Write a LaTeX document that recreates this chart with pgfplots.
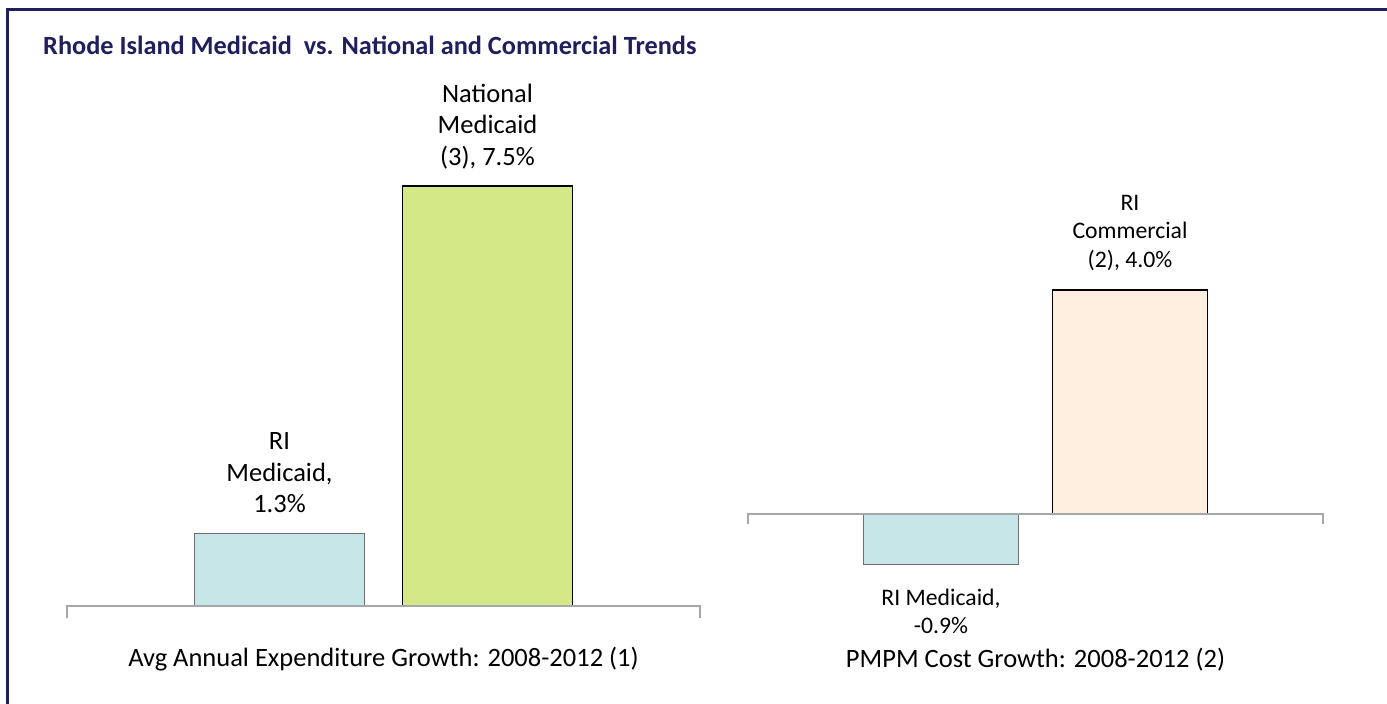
\documentclass[border=0pt]{standalone}
\usepackage{pgfplots}
\pgfplotsset{compat=1.18}
\usepackage{fontspec}
\setmainfont{Carlito}

\definecolor{framenavy}{RGB}{31,31,92}
\definecolor{riblue}{RGB}{198,230,232}
\definecolor{natgreen}{RGB}{213,232,135}
\definecolor{compeach}{RGB}{254,239,224}
\definecolor{basegray}{RGB}{166,166,173}
\definecolor{riedge}{RGB}{110,110,110}

\newcommand{\leftfont}{\fontsize{26.5}{31.5}\selectfont}
\newcommand{\rightfont}{\fontsize{23.7}{28.5}\selectfont}
\newcommand{\catfont}{\fontsize{26.5}{32}\selectfont}

\pgfplotsset{
  barpanel/.style={
    scale only axis,
    axis lines=none,
    clip=false,
    ybar,
    bar shift=0pt,
    xtick=\empty, ytick=\empty,
    nodes near coords style={inner sep=0pt, align=center, text depth=0pt},
  },
}

\begin{document}
\begin{tikzpicture}
\fill[white] (0pt,0pt) rectangle (1387pt,-704pt);
\path[use as bounding box] (0pt,0pt) rectangle (1387pt,-704pt);

% frame and title
\draw[framenavy, line width=3pt] (7pt,-704pt) -- (7pt,-9pt) -- (1387pt,-9pt);
\node[anchor=base west, inner sep=0pt, text=framenavy, font=\fontsize{26.3}{30}\selectfont\bfseries]
  at (43pt,-54pt) {Rhode Island Medicaid\ \ vs. National and Commercial Trends};

% left panel: average annual expenditure growth
\begin{axis}[barpanel,
  at={(67pt,-606pt)}, anchor=south west,
  width=633pt, height=420pt,
  xmin=-316.5, xmax=316.5, ymin=0, ymax=7.5,
  bar width=170]
\addplot[fill=riblue, draw=riedge, line width=1.2pt,
  nodes near coords={RI\\Medicaid,\\1.3\%},
  every node near coord/.append style={anchor=south, yshift=20pt, font=\leftfont}]
  coordinates {(-104,1.3)};
\addplot[fill=natgreen, draw=black, line width=1.5pt,
  nodes near coords={National\\Medicaid\\(3), 7.5\%},
  every node near coord/.append style={anchor=south, yshift=20pt, font=\leftfont}]
  coordinates {(104,7.5)};
\draw[basegray, line width=2pt] (axis cs:-316.5,0) ++(0pt,-12pt) -- (axis cs:-316.5,0)
  -- (axis cs:316.5,0) -- ++(0pt,-12pt);
\end{axis}

% right panel: PMPM cost growth
\begin{axis}[barpanel,
  at={(748pt,-570pt)}, anchor=south west,
  width=575pt, height=280pt,
  xmin=-287.5, xmax=287.5, ymin=-1, ymax=4,
  bar width=155]
\addplot[fill=riblue, draw=riedge, line width=1.2pt,
  nodes near coords={RI Medicaid,\\-0.9\%},
  every node near coord/.append style={anchor=north, yshift=-24pt, font=\rightfont}]
  coordinates {(-94.5,-0.9)};
\addplot[fill=compeach, draw=black, line width=1.5pt,
  nodes near coords={RI\\Commercial\\(2), 4.0\%},
  every node near coord/.append style={anchor=south, yshift=22pt, font=\rightfont}]
  coordinates {(94.5,4.0)};
\draw[basegray, line width=2pt] (axis cs:-287.5,0) ++(0pt,-10pt) -- (axis cs:-287.5,0)
  -- (axis cs:287.5,0) -- ++(0pt,-10pt);
\end{axis}

% category labels under each panel
\node[anchor=base, inner sep=0pt, font=\catfont] at (383.5pt,-666pt)
  {Avg Annual Expenditure Growth: 2008-2012 (1)};
\node[anchor=base, inner sep=0pt, font=\catfont] at (1035.5pt,-667pt)
  {PMPM Cost Growth: 2008-2012 (2)};
\end{tikzpicture}
\end{document}
